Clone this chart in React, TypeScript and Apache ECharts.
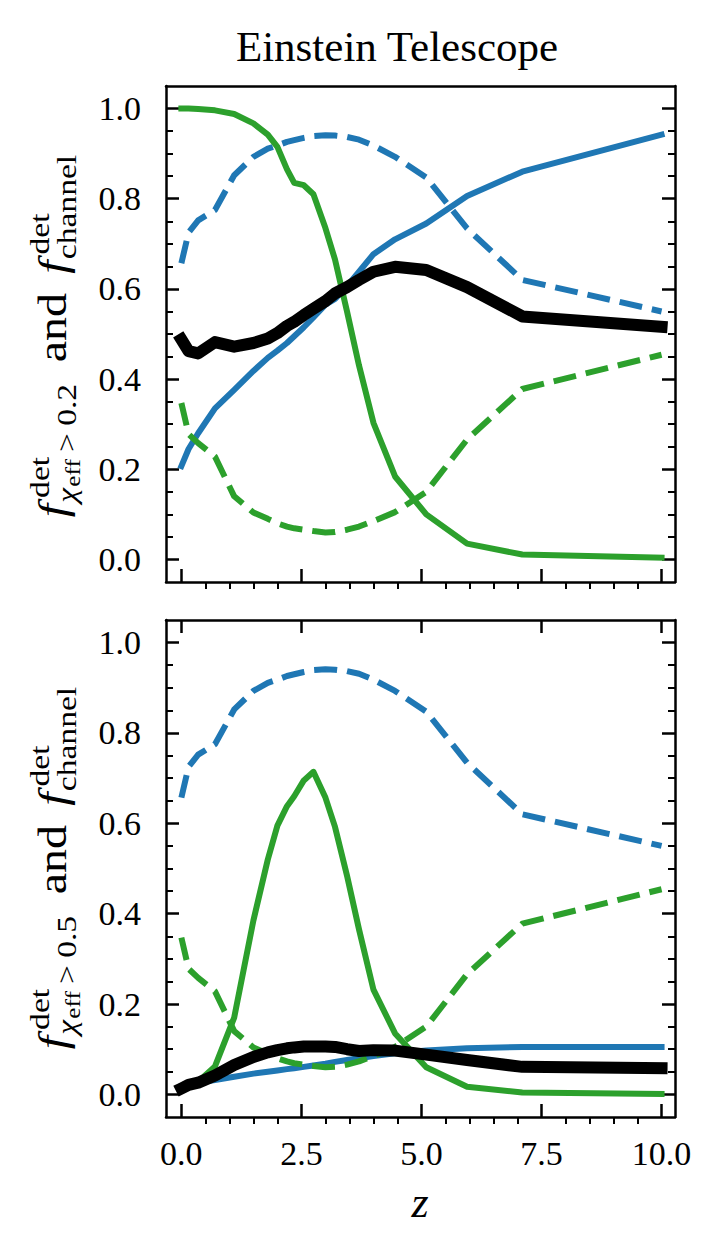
import React, { useEffect, useRef } from "react";
import * as echarts from "echarts";

// ---------- data ----------
const Z = [0, 0.15, 0.35, 0.7, 1.1, 1.5, 1.8, 2.0, 2.2, 2.35, 2.55, 2.75, 3.0, 3.2, 3.45, 3.7, 4.0, 4.45, 5.1, 5.95, 7.1, 10.0];

// channel fractions (same in both panels)
const channelBlue = [0.657, 0.725, 0.752, 0.775, 0.852, 0.893, 0.911, 0.918, 0.926, 0.930, 0.935, 0.939, 0.941, 0.940, 0.937, 0.931, 0.918, 0.893, 0.847, 0.734, 0.620, 0.550];
const channelGreen = [0.347, 0.278, 0.258, 0.228, 0.140, 0.104, 0.090, 0.080, 0.073, 0.069, 0.066, 0.063, 0.060, 0.061, 0.066, 0.073, 0.085, 0.105, 0.150, 0.266, 0.378, 0.454];

// chi_eff > 0.2
const topBlue = [0.207, 0.245, 0.280, 0.335, 0.376, 0.418, 0.447, 0.463, 0.480, 0.495, 0.515, 0.537, 0.565, 0.578, 0.606, 0.638, 0.677, 0.710, 0.745, 0.806, 0.860, 0.942];
const topGreen = [1.000, 1.000, 0.999, 0.996, 0.988, 0.967, 0.942, 0.915, 0.865, 0.835, 0.830, 0.810, 0.735, 0.665, 0.550, 0.430, 0.303, 0.184, 0.100, 0.035, 0.011, 0.004];
const topBlack = [0.488, 0.462, 0.457, 0.482, 0.472, 0.480, 0.490, 0.502, 0.518, 0.527, 0.542, 0.556, 0.573, 0.590, 0.604, 0.620, 0.638, 0.649, 0.642, 0.604, 0.539, 0.516];

// chi_eff > 0.5
const botBlue = [0.018, 0.022, 0.026, 0.032, 0.039, 0.046, 0.050, 0.053, 0.056, 0.058, 0.061, 0.064, 0.068, 0.072, 0.076, 0.080, 0.085, 0.091, 0.097, 0.102, 0.105, 0.105];
const botGreen = [0.013, 0.020, 0.028, 0.062, 0.170, 0.385, 0.520, 0.595, 0.638, 0.660, 0.695, 0.714, 0.657, 0.592, 0.484, 0.365, 0.232, 0.135, 0.060, 0.017, 0.004, 0.001];
const botBlack = [0.013, 0.021, 0.026, 0.042, 0.065, 0.083, 0.093, 0.098, 0.102, 0.104, 0.106, 0.106, 0.106, 0.105, 0.100, 0.096, 0.098, 0.097, 0.088, 0.076, 0.061, 0.058];

const X_TICKS = [0, 2.5, 5, 7.5, 10];
const X_MINOR = [0.5, 1, 1.5, 2, 3, 3.5, 4, 4.5, 5.5, 6, 6.5, 7, 8, 8.5, 9, 9.5];
const Y_TICKS = [0, 0.2, 0.4, 0.6, 0.8, 1.0];
const Y_MINOR = [0.05, 0.1, 0.15, 0.25, 0.3, 0.35, 0.45, 0.5, 0.55, 0.65, 0.7, 0.75, 0.85, 0.9, 0.95];
const THRESHOLDS = ["0.2", "0.5"];
const TITLE = "Einstein Telescope";

// ---------- style ----------
const FONT = "'Liberation Serif', 'DejaVu Serif', serif";
const BLUE = "#1f77b4";
const GREEN = "#2ca02c";
const XMIN = -0.32, XMAX = 10.28, YMIN = -0.05, YMAX = 1.05;
const GRIDS = [
  { left: 166, top: 86, width: 509, height: 496 },
  { left: 166, top: 620, width: 509, height: 497 },
];
const AXW = 2.5;

let measureCtx: CanvasRenderingContext2D | null = null;
function measure(text: string, size: number, italic: boolean): number {
  if (!measureCtx) measureCtx = document.createElement("canvas").getContext("2d");
  if (!measureCtx) return text.length * size * 0.5;
  measureCtx.font = `${italic ? "italic " : ""}${size}px ${FONT}`;
  return measureCtx.measureText(text).width;
}

function yLabel(thr: string, centerY: number) {
  const S = 40, s = 28, ss = 21;
  const baseX = 66, supX = 49, subX = 76, subsubX = 80;
  const C = 0.3375;
  const target = 368;
  const pieces: any[] = [];
  const add = (text: string, size: number, italic: boolean, u: number, bx: number) => {
    pieces.push({ text, size, italic, u, w: bx - baseX - C * size });
    return u + measure(text, size, italic);
  };
  let e = add("f", S, true, 0, baseX);
  let supEnd = add("det", s, false, e + 5, supX);
  let sub = add("χ", s, true, e + 1, subX);
  sub = add("eff", ss, false, sub + 1, subsubX);
  sub = add(">", s, false, sub + 6, subX);
  sub = add(thr, s, false, sub + 6, subX);
  let u = Math.max(supEnd, sub) + 18;
  u = add("and", S, false, u, baseX) + 16;
  e = add("f", S, true, u, baseX);
  supEnd = add("det", s, false, e + 5, supX);
  const subEnd = add("channel", s, false, e + 1, subX);
  const total = Math.max(supEnd, subEnd);
  const k = Math.min(1.2, Math.max(1, target / total));
  return {
    type: "group",
    x: baseX,
    y: centerY + (total * k) / 2,
    rotation: Math.PI / 2,
    scaleX: k,
    children: pieces.map((p) => ({
      type: "text",
      x: p.u,
      y: p.w,
      style: {
        text: p.text,
        fontSize: p.size,
        fontFamily: FONT,
        fontStyle: p.italic ? "italic" : "normal",
        fill: "#000",
        align: "left",
        verticalAlign: "middle",
        textAlign: "left",
        textVerticalAlign: "middle",
      },
    })),
  };
}

function buildXAxes(g: number, bottomLabels: boolean, topTicks: boolean) {
  const base = {
    type: "value",
    gridIndex: g,
    min: XMIN,
    max: XMAX,
    splitLine: { show: false },
    minorTick: { show: false },
    minorSplitLine: { show: false },
  };
  return [
    {
      ...base,
      position: "bottom",
      axisLine: { show: true, onZero: false, lineStyle: { color: "#000", width: AXW } },
      axisTick: { show: true, inside: true, length: 13, customValues: X_TICKS, lineStyle: { color: "#000", width: AXW } },
      axisLabel: {
        show: bottomLabels,
        customValues: X_TICKS,
        formatter: (v: number) => v.toFixed(1),
        fontFamily: FONT,
        fontSize: 34,
        color: "#000",
        margin: 19,
      },
    },
    {
      ...base,
      position: "bottom",
      axisLine: { show: false, onZero: false },
      axisTick: { show: true, inside: false, length: 7, customValues: X_MINOR, lineStyle: { color: "#000", width: 2 } },
      axisLabel: { show: false },
    },
    {
      ...base,
      position: "top",
      axisLine: { show: true, onZero: false, lineStyle: { color: "#000", width: AXW } },
      axisTick: { show: topTicks, inside: true, length: 13, customValues: X_TICKS, lineStyle: { color: "#000", width: AXW } },
      axisLabel: { show: false },
    },
  ];
}

function buildYAxes(g: number) {
  const base = {
    type: "value",
    gridIndex: g,
    min: YMIN,
    max: YMAX,
    splitLine: { show: false },
    minorTick: { show: false },
    minorSplitLine: { show: false },
  };
  const major = (pos: string, labels: boolean) => ({
    ...base,
    position: pos,
    axisLine: { show: true, onZero: false, lineStyle: { color: "#000", width: AXW } },
    axisTick: { show: true, inside: true, length: 13, customValues: Y_TICKS, lineStyle: { color: "#000", width: AXW } },
    axisLabel: {
      show: labels,
      customValues: Y_TICKS,
      formatter: (v: number) => v.toFixed(1),
      fontFamily: FONT,
      fontSize: 34,
      color: "#000",
      margin: 25,
    },
  });
  const minor = (pos: string) => ({
    ...base,
    position: pos,
    axisLine: { show: false, onZero: false },
    axisTick: { show: true, inside: true, length: 7, customValues: Y_MINOR, lineStyle: { color: "#000", width: 2 } },
    axisLabel: { show: false },
  });
  return [major("left", true), minor("left"), major("right", false), minor("right")];
}

function line(name: string, vals: number[], xi: number, yi: number, color: string, width: number, dashed: boolean, z: number) {
  return {
    type: "line",
    name,
    xAxisIndex: xi,
    yAxisIndex: yi,
    data: Z.map((zz, i) => [zz, vals[i]]),
    showSymbol: false,
    symbol: "none",
    z,
    lineStyle: {
      color,
      width,
      type: dashed ? [23, 10] : "solid",
      cap: dashed ? "butt" : "square",
      join: "round",
    },
  };
}

export default function App() {
  const ref = useRef<HTMLDivElement>(null);
  useEffect(() => {
    if (!ref.current) return;
    const chart = echarts.init(ref.current, undefined, { renderer: "svg" });
    const xAxis = [...buildXAxes(0, false, false), ...buildXAxes(1, true, true)];
    const yAxis = [...buildYAxes(0), ...buildYAxes(1)];
    // main axes: grid0 -> x0,y0 ; grid1 -> x3,y4
    const panels = [
      { xi: 0, yi: 0, blue: topBlue, green: topGreen, black: topBlack },
      { xi: 3, yi: 4, blue: botBlue, green: botGreen, black: botBlack },
    ];
    const series: any[] = [];
    panels.forEach((p, k) => {
      series.push(line(`blue${k}`, p.blue, p.xi, p.yi, BLUE, 6, false, 2));
      series.push(line(`blueCh${k}`, channelBlue, p.xi, p.yi, BLUE, 6, true, 3));
      series.push(line(`green${k}`, p.green, p.xi, p.yi, GREEN, 6, false, 4));
      series.push(line(`greenCh${k}`, channelGreen, p.xi, p.yi, GREEN, 6, true, 5));
      series.push(line(`total${k}`, p.black, p.xi, p.yi, "#000", 12, false, 6));
    });
    const option: any = {
      animation: false,
      backgroundColor: "#fff",
      grid: GRIDS.map((g) => ({ ...g, containLabel: false, show: false })),
      xAxis,
      yAxis,
      series,
      graphic: [
        {
          type: "text",
          x: 397,
          y: 46,
          style: {
            text: TITLE,
            fontSize: 43,
            fontFamily: FONT,
            fill: "#000",
            align: "center",
            verticalAlign: "middle",
            textAlign: "center",
            textVerticalAlign: "middle",
          },
        },
        {
          type: "text",
          x: 420,
          y: 1202,
          style: {
            text: "z",
            fontSize: 44,
            fontFamily: FONT,
            fontStyle: "italic",
            fill: "#000",
            align: "center",
            verticalAlign: "middle",
            textAlign: "center",
            textVerticalAlign: "middle",
          },
        },
        yLabel(THRESHOLDS[0], 336),
        yLabel(THRESHOLDS[1], 868),
      ],
    };
    chart.setOption(option);
    return () => chart.dispose();
  }, []);
  return (
    <div
      ref={ref}
      style={{ position: "absolute", left: 0, top: 0, width: 722, height: 1253, background: "#fff" }}
    />
  );
}
